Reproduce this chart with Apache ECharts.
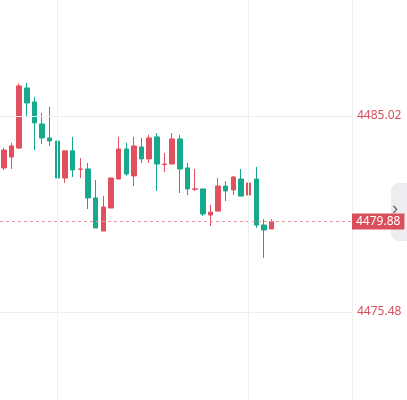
<!DOCTYPE html>
<html><head><meta charset="utf-8">
<script src="https://cdn.jsdelivr.net/npm/echarts@6/dist/echarts.min.js"></script>
<style>html,body{margin:0;padding:0;background:#fff}#c{width:407px;height:400px}</style>
</head><body><div id="c"></div>
<script>
// [open, close, low, high]
const candles = [
[4482.49,4483.36,4482.39,4483.46],[4483.02,4483.56,4482.44,4483.71],[4483.46,4486.48,4483.41,4486.60],
[4486.38,4485.65,4485.02,4486.63],[4485.70,4484.68,4483.36,4485.95],[4484.63,4483.95,4483.66,4485.17],
[4483.95,4483.80,4483.56,4485.46],[4483.80,4482.00,4481.51,4483.80],[4482.00,4483.32,4481.76,4483.32],
[4483.32,4482.39,4482.05,4484.00],[4482.42,4482.44,4482.00,4482.97],[4482.44,4481.03,4480.49,4482.73],
[4481.03,4479.57,4479.57,4481.90],[4479.42,4480.59,4479.42,4481.12],[4480.54,4482.00,4480.54,4482.00],
[4481.95,4483.41,4481.95,4484.00],[4483.41,4482.20,4482.10,4483.71],[4482.10,4483.56,4481.61,4484.00],
[4483.51,4482.93,4482.73,4483.95],[4482.93,4483.95,4482.73,4484.10],[4484.00,4482.68,4481.37,4484.19],
[4482.66,4482.68,4482.29,4483.22],[4482.68,4483.90,4482.68,4484.19],[4483.90,4482.44,4481.27,4484.10],
[4482.49,4481.47,4481.17,4482.73],[4481.45,4481.47,4481.37,4482.44],[4481.47,4480.25,4480.15,4481.47],
[4480.20,4480.34,4479.66,4480.69],[4480.39,4481.61,4480.39,4482.00],[4481.61,4481.37,4480.88,4481.85],
[4481.42,4482.05,4481.17,4482.10],[4481.95,4481.12,4481.12,4482.44],[4481.17,4481.76,4480.64,4482.44],
[4481.95,4479.71,4479.57,4482.54],[4479.71,4479.47,4478.11,4480.00],[4479.52,4479.88,4479.52,4480.00]
];
const totalSlots = 46;
const categories = Array.from({length: totalSlots}, (_, i) => String(i + 1));
const gridLevels = [4485.02, 4475.48];
const lastPrice = 4479.88;
const vLineIdx = ['8', '33'];

const red = '#e0505e', green = '#17a98c';
const chart = echarts.init(document.getElementById('c'));
chart.setOption({
  animation: false,
  grid: {left: -3, right: 55, top: 0, bottom: 0},
  xAxis: {type: 'category', data: categories, boundaryGap: true, show: false},
  yAxis: {type: 'value', position: 'right', min: 4471.20, max: 4490.66, scale: true,
    axisLine: {show: true, lineStyle: {color: '#eeeeee'}}, axisTick: {show: false},
    axisLabel: {show: false}, splitLine: {show: false}},
  graphic: [
    {type: 'rect', shape: {x: 391, y: 183, width: 30, height: 58, r: 8}, style: {fill: '#ececf1'}},
    {type: 'text', left: 392, top: 200, style: {text: '›', fill: '#666', font: '18px sans-serif'}}
  ],
  series: [{
    type: 'candlestick', data: candles, barWidth: 5,
    itemStyle: {color: red, color0: green, borderColor: red, borderColor0: green, borderWidth: 1},
    markLine: {
      silent: true, symbol: 'none', animation: false,
      data: [
        ...gridLevels.map(v => ({yAxis: v, lineStyle: {color: '#eeeeee', type: 'solid', width: 1},
          label: {show: true, position: 'end', formatter: v.toFixed(2), color: '#d9505c', fontSize: 12, fontFamily: 'Noto Sans', distance: 5}})),
        {yAxis: lastPrice, lineStyle: {color: '#eb98a0', type: [3, 3], width: 1, opacity: 1},
          label: {show: true, position: 'end', formatter: lastPrice.toFixed(2), color: '#fff', backgroundColor: '#d9505c',
            padding: [2, 4, 2, 4], fontSize: 12, fontFamily: 'Noto Sans', distance: 0}},
        ...vLineIdx.map(x => ({xAxis: x, lineStyle: {color: '#f0f0f0', type: 'solid', width: 1}, label: {show: false}}))
      ]
    }
  }]
});
</script></body></html>
